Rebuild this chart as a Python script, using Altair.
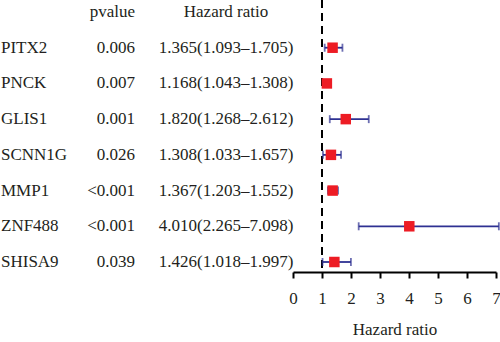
import altair as alt
import pandas as pd

genes = ["PITX2", "PNCK", "GLIS1", "SCNN1G", "MMP1", "ZNF488", "SHISA9"]
pvalues = ["0.006", "0.007", "0.001", "0.026", "<0.001", "<0.001", "0.039"]
hr = [1.365, 1.168, 1.820, 1.308, 1.367, 4.010, 1.426]
low = [1.093, 1.043, 1.268, 1.033, 1.203, 2.265, 1.018]
high = [1.705, 1.308, 2.612, 1.657, 1.552, 7.098, 1.997]
hr_text = ["1.365(1.093–1.705)", "1.168(1.043–1.308)", "1.820(1.268–2.612)",
           "1.308(1.033–1.657)", "1.367(1.203–1.552)", "4.010(2.265–7.098)",
           "1.426(1.018–1.997)"]
x_ticks = [0, 1, 2, 3, 4, 5, 6, 7]

df = pd.DataFrame({
    "gene": genes, "p": pvalues, "hr": hr, "low": low, "high": high,
    "txt": hr_text, "row": list(range(1, len(genes) + 1)),
})
hdr = pd.DataFrame({"row": [0], "p": ["pvalue"], "txt": ["Hazard ratio"]})

FONT = "'Times New Roman', 'Liberation Serif', 'DejaVu Serif', serif"
FS = 17
TXT = "#231f20"
NAVY = "#2e3192"
RED = "#ed1c24"

yscale = alt.Scale(domain=[-0.336, 7.28], reverse=True, nice=False, zero=False)
xscale = alt.Scale(domain=[0, 7], nice=False, zero=True)
Y = alt.Y("row:Q", scale=yscale, axis=None)
XAX = alt.Axis(values=x_ticks, tickCount=8, grid=False, tickSize=6, tickWidth=2,
               domainWidth=2, domainColor="black", tickColor="black",
               labelOverlap=False, labelFlush=False,
               labelFont=FONT, labelFontSize=FS, labelColor=TXT,
               labelPadding=12, title="Hazard ratio", titleFont=FONT,
               titleFontSize=FS, titleFontWeight="normal",
               titleColor=TXT, titlePadding=15)


def X(field):
    return alt.X(field, scale=xscale, axis=XAX, title="Hazard ratio")


base = alt.Chart(df)

ref = alt.Chart(pd.DataFrame({"v": [1]})).mark_rule(
    color="black", strokeWidth=2, strokeDash=[8, 5]
).encode(x=X("v:Q"), y=alt.value(0), y2=alt.value(272))

bars = base.mark_rule(color=NAVY, strokeWidth=1.8).encode(
    x=X("low:Q"), x2="high:Q", y=Y)
cap_l = base.mark_tick(color=NAVY, thickness=1.8, size=8).encode(
    x=X("low:Q"), y=Y)
cap_h = base.mark_tick(color=NAVY, thickness=1.8, size=8).encode(
    x=X("high:Q"), y=Y)
pts = base.mark_square(color=RED, opacity=1, size=110).encode(
    x=X("hr:Q"), y=Y)

t_gene = base.mark_text(font=FONT, fontSize=FS, color=TXT, align="left",
                        baseline="middle").encode(
    x=alt.value(-292), y=Y, text="gene:N")
t_p = base.mark_text(font=FONT, fontSize=FS, color=TXT, align="right",
                     baseline="middle").encode(
    x=alt.value(-158), y=Y, text="p:N")
t_hr = base.mark_text(font=FONT, fontSize=FS, color=TXT, align="center",
                      baseline="middle").encode(
    x=alt.value(-67), y=Y, text="txt:N")
h_p = alt.Chart(hdr).mark_text(font=FONT, fontSize=FS, color=TXT, align="right",
                               baseline="middle").encode(
    x=alt.value(-158), y=Y, text="p:N")
h_hr = alt.Chart(hdr).mark_text(font=FONT, fontSize=FS, color=TXT, align="center",
                                baseline="middle").encode(
    x=alt.value(-67), y=Y, text="txt:N")

chart = alt.layer(ref, bars, cap_l, cap_h, pts, t_gene, t_p, t_hr, h_p, h_hr).properties(
    width=203, height=272,
    autosize=alt.AutoSizeParams(type="none"),
    padding={"left": 293, "top": 0, "right": 4, "bottom": 70},
    background="white",
).configure_view(stroke=None).configure_axisX(labelOverlap=False)

chart.save("out.html", embed_options={"renderer": "svg", "actions": False})
